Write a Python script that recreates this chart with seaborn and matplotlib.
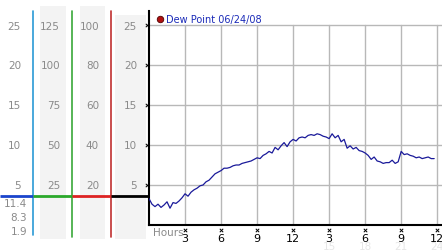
import numpy as np
import pandas as pd
import matplotlib
matplotlib.use("Agg")
import matplotlib.pyplot as plt
import matplotlib.transforms as mtransforms
import seaborn as sns

# ---- data ----
dew_point = [
    3.3, 2.6, 2.3, 2.6,
    2.2, 2.5, 2.9, 2.1,
    2.8, 2.7, 3.0, 3.4,
    3.9, 3.6, 4.1, 4.4,
    4.6, 4.9, 5.0, 5.4,
    5.6, 6.0, 6.4, 6.6,
    6.8, 7.1, 7.1, 7.2,
    7.4, 7.5, 7.5, 7.7,
    7.8, 7.9, 8.0, 8.2,
    8.4, 8.3, 8.7, 8.9,
    9.2, 9.0, 9.7, 9.4,
    9.9, 10.3, 9.8, 10.4,
    10.7, 10.5, 10.9, 11.0,
    10.9, 11.2, 11.3, 11.2,
    11.4, 11.3, 11.1, 11.0,
    10.8, 11.4, 10.9, 11.2,
    10.4, 10.7, 9.6, 9.9,
    9.5, 9.7, 9.3, 9.2,
    9.0, 8.7, 8.2, 8.5,
    8.0, 7.9, 7.7, 7.8,
    7.8, 8.1, 7.7, 7.9,
    9.2, 8.8, 8.9, 8.7,
    8.6, 8.4, 8.5, 8.3,
    8.4, 8.5, 8.3, 8.3,
]
hours = [i * 0.25 for i in range(len(dew_point))]
x_ticks = [3, 6, 9, 12, 15, 18, 21, 24]
x_tick_labels = ["3", "6", "9", "12", "3", "6", "9", "12"]
x_sub_ticks = [15, 18, 21, 24]
x_sub_labels = ["15", "18", "21", "24"]
y_ticks = [5, 10, 15, 20, 25]
scale_cols = [
    ["25", "20", "15", "10", "5"],
    ["125", "100", "75", "50", "25"],
    ["100", "80", "60", "40", "20"],
    ["25", "20", "15", "10", "5"],
]
low_labels = ["11.4", "8.3", "1.9"]
legend_label = "Dew Point 06/24/08"

df = pd.DataFrame({"hours": hours, "dew": dew_point})

sns.set_style("white")
plt.rcParams["font.family"] = ["DejaVu Sans"]

W, H = 442, 253
fig = plt.figure(figsize=(W / 100, H / 100), dpi=100)

# overlay in pixel coordinates for the left scale panels
ov = fig.add_axes([0, 0, 1, 1])
ov.set_xlim(0, W)
ov.set_ylim(H, 0)
ov.axis("off")
band = "#f3f3f3"
ov.add_patch(plt.Rectangle((40, 7), 26, 233, color=band, lw=0, zorder=0))
ov.add_patch(plt.Rectangle((80, 7), 25, 233, color=band, lw=0, zorder=0))
ov.add_patch(plt.Rectangle((115, 16), 31, 224, color=band, lw=0, zorder=0))
ov.plot([33, 33], [12, 236], color="#2a9ad6", lw=1.2, zorder=2)
ov.plot([72, 72], [12, 238], color="#3aa83a", lw=1.2, zorder=2)
ov.plot([111, 111], [12, 238], color="#c03030", lw=1.2, zorder=2)
ov.plot([0, 33], [197, 197], color="#1a44cc", lw=2, zorder=3, solid_capstyle="butt")
ov.plot([33, 72], [197, 197], color="#2aa82a", lw=2, zorder=3, solid_capstyle="butt")
ov.plot([72, 111], [197, 197], color="#dd2222", lw=2, zorder=3, solid_capstyle="butt")
ov.plot([111, 149], [197, 197], color="#000000", lw=2, zorder=3, solid_capstyle="butt")

col_right = [21, 60, 99, 137]
ypix = [27, 66, 106, 146, 186]
for cx, labels in zip(col_right, scale_cols):
    for yp, lab in zip(ypix, labels):
        ov.text(cx, yp, lab, ha="right", va="center", fontsize=7.5, color="#8a8a8a")
for yp, lab in zip([204, 218, 232], low_labels):
    ov.text(27, yp, lab, ha="right", va="center", fontsize=7.5, color="#8a8a8a")

# legend
ov.scatter([160], [20], s=22, color="#b01010", edgecolors="#500000", linewidths=0.6, zorder=5)
ov.text(166, 20, legend_label, ha="left", va="center", fontsize=7.0, color="#1a2ab8")

# main axes
x0, x1, y0, y1 = 149, 442, 12, 226
ax = fig.add_axes([x0 / W, 1 - y1 / H, (x1 - x0) / W, (y1 - y0) / H])
ax.patch.set_alpha(0)
sns.lineplot(data=df, x="hours", y="dew", ax=ax, color="#1a1a9a", lw=0.9, zorder=4)
ax.set_xlim(0, 24.4)
ax.set_ylim(0, 26.75)
for v in x_ticks:
    ax.plot([v, v], [0, 25], color="#b8b8b8", lw=1, zorder=1)
for v in y_ticks:
    ax.axhline(v, color="#b8b8b8", lw=1, zorder=1)
for s in ["top", "right"]:
    ax.spines[s].set_visible(False)
for s in ["left", "bottom"]:
    ax.spines[s].set_color("black")
    ax.spines[s].set_linewidth(1.5)
ax.set_xlabel("")
ax.set_ylabel("")
ax.set_yticks([])
ax.set_xticks(x_ticks)
ax.set_xticklabels(x_tick_labels, fontsize=8, color="black")
ax.tick_params(axis="x", length=0, pad=5.5)

# small x markers
tb = mtransforms.blended_transform_factory(ax.transData, ax.transAxes)
ax.scatter(x_ticks, [-0.025] * len(x_ticks), marker="x", s=6, lw=0.7, color="black",
           transform=tb, clip_on=False)
tl = mtransforms.blended_transform_factory(ax.transAxes, ax.transData)
ax.scatter([-0.007] * len(y_ticks), y_ticks, marker="x", s=6, lw=0.7, color="black",
           transform=tl, clip_on=False)
for v, lab in zip(x_sub_ticks, x_sub_labels):
    ax.text(v, -0.098, lab, transform=tb, ha="center", va="center", fontsize=7.5, color="#e6e6e6")
ax.text(0.012, -0.035, "Hours", transform=ax.transAxes, ha="left", va="center",
        fontsize=7.5, color="#8a8a8a")

fig.savefig("out.png", dpi=100)
